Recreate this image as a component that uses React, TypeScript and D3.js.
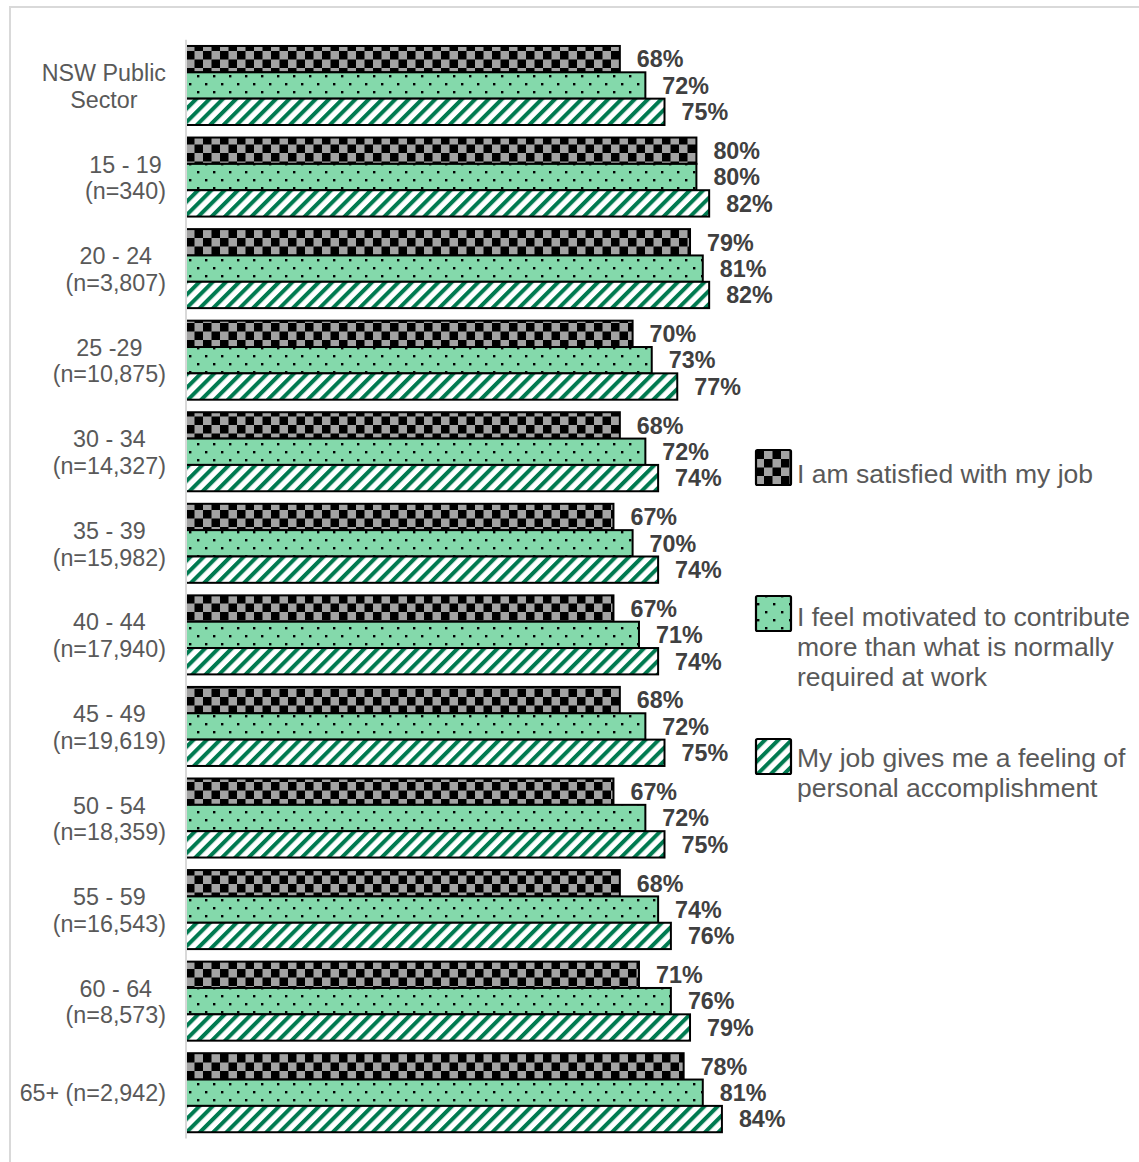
import React, { useEffect, useRef } from "react";
import * as d3 from "d3";

const categories: string[][] = [
  ["NSW Public", "Sector"],
  ["15 - 19", "(n=340)"],
  ["20 - 24", "(n=3,807)"],
  ["25 -29", "(n=10,875)"],
  ["30 - 34", "(n=14,327)"],
  ["35 - 39", "(n=15,982)"],
  ["40 - 44", "(n=17,940)"],
  ["45 - 49", "(n=19,619)"],
  ["50 - 54", "(n=18,359)"],
  ["55 - 59", "(n=16,543)"],
  ["60 - 64", "(n=8,573)"],
  ["65+ (n=2,942)"],
];
const satisfied = [68, 80, 79, 70, 68, 67, 67, 68, 67, 68, 71, 78];
const motivated = [72, 80, 81, 73, 72, 70, 71, 72, 72, 74, 76, 81];
const accomplishment = [75, 82, 82, 77, 74, 74, 74, 75, 75, 76, 79, 84];
const seriesKeys = ["sat", "mot", "acc"];
const seriesNames: string[][] = [
  ["I am satisfied with my job"],
  ["I feel motivated to contribute", "more than what is normally", "required at work"],
  ["My job gives me a feeling of", "personal accomplishment"],
];
const seriesValues = [satisfied, motivated, accomplishment];

const W = 1139;
const H = 1162;
const FONT = "'Liberation Sans', Arial, Helvetica, sans-serif";

export default function App() {
  const ref = useRef<SVGSVGElement | null>(null);

  useEffect(() => {
    const svg = d3.select(ref.current);
    svg.selectAll("*").remove();

    const defs = svg.append("defs");
    // checkerboard
    const chk = defs.append("pattern").attr("id", "pat-sat").attr("patternUnits", "userSpaceOnUse")
      .attr("x", 186).attr("y", 0).attr("width", 17).attr("height", 17);
    chk.append("rect").attr("width", 17).attr("height", 17).attr("fill", "#A3A3A3");
    chk.append("rect").attr("x", 0).attr("y", 0).attr("width", 8.5).attr("height", 8.5).attr("fill", "#000");
    chk.append("rect").attr("x", 8.5).attr("y", 8.5).attr("width", 8.5).attr("height", 8.5).attr("fill", "#000");
    // dotted
    const dot = defs.append("pattern").attr("id", "pat-mot").attr("patternUnits", "userSpaceOnUse")
      .attr("x", 186).attr("y", 0).attr("width", 16).attr("height", 16);
    dot.append("rect").attr("width", 16).attr("height", 16).attr("fill", "#84D9AB");
    dot.append("rect").attr("x", 3).attr("y", 3).attr("width", 2.4).attr("height", 2.4).attr("fill", "#000");
    dot.append("rect").attr("x", 11).attr("y", 11).attr("width", 2.4).attr("height", 2.4).attr("fill", "#000");
    // stripes
    const str = defs.append("pattern").attr("id", "pat-acc").attr("patternUnits", "userSpaceOnUse")
      .attr("width", 9.4).attr("height", 9.4).attr("patternTransform", "rotate(45)");
    str.append("rect").attr("width", 9.4).attr("height", 9.4).attr("fill", "#fff");
    str.append("rect").attr("x", 0).attr("width", 4).attr("height", 9.4).attr("fill", "#007A50");

    // outer border
    svg.append("rect").attr("x", 10).attr("y", 7).attr("width", 1300).attr("height", 1300)
      .attr("fill", "none").attr("stroke", "#D9D9D9").attr("stroke-width", 2);

    const idx = categories.map((_, i) => String(i));
    const y = d3.scaleBand<string>().domain(idx).range([39.7, 1138.5]).paddingInner(0.137).paddingOuter(0.0685);
    const yi = d3.scaleBand<string>().domain(seriesKeys).range([0, y.bandwidth()]);
    const x = d3.scaleLinear().domain([0, 100]).range([186, 824]);

    // bars
    seriesKeys.forEach((k, si) => {
      const vals = seriesValues[si];
      svg.append("g").selectAll("rect").data(vals).join("rect")
        .attr("x", x(0))
        .attr("y", (_, i) => (y(String(i)) as number) + (yi(k) as number))
        .attr("width", (v) => x(v) - x(0))
        .attr("height", yi.bandwidth())
        .attr("fill", `url(#pat-${k})`)
        .attr("stroke", "#000").attr("stroke-width", 2);
      svg.append("g").selectAll("text").data(vals).join("text")
        .attr("x", (v) => x(v) + 17)
        .attr("y", (_, i) => (y(String(i)) as number) + (yi(k) as number) + yi.bandwidth() / 2 + 8.3)
        .attr("font-family", FONT).attr("font-size", 23.3).attr("font-weight", "bold")
        .attr("fill", "#404040")
        .text((v) => `${v}%`);
    });

    // axis line
    svg.append("line").attr("x1", 186).attr("x2", 186).attr("y1", 39.7).attr("y2", 1138.5)
      .attr("stroke", "#D9D9D9").attr("stroke-width", 2);

    // category labels
    categories.forEach((lines, i) => {
      const c = (y(String(i)) as number) + y.bandwidth() / 2;
      const g = svg.append("g");
      const texts = lines.map((ln, j) => {
        const base = lines.length === 1 ? c + 8.3 : c - 4.5 + j * 26.7;
        return g.append("text").attr("y", base).attr("font-family", FONT).attr("font-size", 23.3)
          .attr("fill", "#595959").attr("text-anchor", "middle").text(ln);
      });
      let maxW = 0;
      texts.forEach((t) => {
        const n = t.node() as SVGTextElement;
        maxW = Math.max(maxW, n.getComputedTextLength());
      });
      texts.forEach((t) => t.attr("x", 166 - maxW / 2));
    });

    // legend
    const legendBoxes = [450, 596, 739];
    const legendBase = [483, 626, 767];
    seriesKeys.forEach((k, si) => {
      svg.append("rect").attr("x", 756).attr("y", legendBoxes[si]).attr("width", 35).attr("height", 35)
        .attr("rx", 1.5)
        .attr("fill", `url(#pat-${k})`).attr("stroke", "#000").attr("stroke-width", 2.2);
      seriesNames[si].forEach((ln, j) => {
        svg.append("text").attr("x", 797).attr("y", legendBase[si] + j * 30)
          .attr("font-family", FONT).attr("font-size", 26.5).attr("fill", "#595959").text(ln);
      });
    });
  }, []);

  return (
    <svg ref={ref} width={W} height={H} style={{ position: "absolute", left: 0, top: 0, background: "#fff" }} />
  );
}
